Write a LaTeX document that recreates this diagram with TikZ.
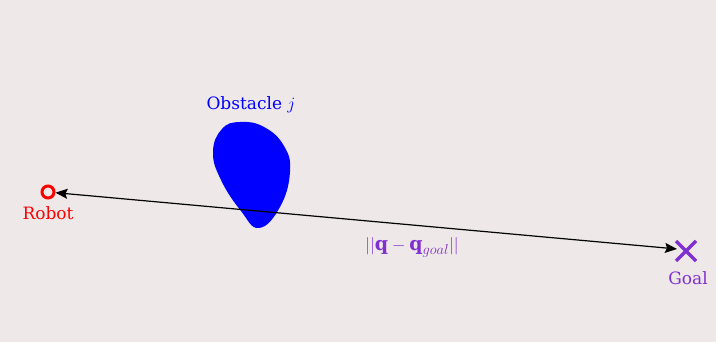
\documentclass[tikz,border=0pt]{standalone}
\usepackage{amsmath}
\usepackage{fontspec}
\setmainfont{DejaVu Serif}
\usetikzlibrary{arrows.meta,calc}
\definecolor{bg}{HTML}{EEE8E8}
\definecolor{gpurple}{HTML}{8030D0}
\begin{document}
\begin{tikzpicture}[x=1pt,y=-1pt,
  lbl/.style={inner sep=0pt,font=\fontsize{17}{20}\selectfont},
  dbl/.style={{Stealth[length=12pt,width=10pt,inset=2pt]}-{Stealth[length=12pt,width=10pt,inset=2pt]}}]
\fill[bg] (0,0) rectangle (716,342);
\useasboundingbox (0,0) rectangle (716,342);
% obstacle
\fill[blue] plot[smooth cycle,tension=0.75] coordinates {(240,122) (264,127) (284,146) (290,172) (280,207) (259,228) (241,211) (221,180) (213,152) (222,129)};
\node[lbl,text=blue] (obsl) at (251,105) {Obstacle \fontsize{19}{20}\selectfont$j$};
% robot
\node[circle,draw=red,line width=3pt,minimum size=12pt,inner sep=0pt] (robot) at (48,192) {};
\node[lbl,text=red] (robotl) at (48,213) {Robot};
% goal
\coordinate (goal) at (686,251);
\draw[gpurple,line width=3.4pt] ($(goal)+(-10,-10)$) -- ($(goal)+(10,10)$) ($(goal)+(-10,10)$) -- ($(goal)+(10,-10)$);
\node[lbl,text=gpurple] (goall) at (688,278) {Goal};
% distance
\coordinate (gend) at ($(goal)+(-9,-2)$);
\draw[dbl,line width=1.2pt] (robot) -- (gend);
\node[lbl,text=gpurple,font=\fontsize{19}{22}\selectfont] (dl) at (412,247) {$\lvert\lvert\mathbf{q}-\mathbf{q}_{goal}\rvert\rvert$};
\end{tikzpicture}
\end{document}
